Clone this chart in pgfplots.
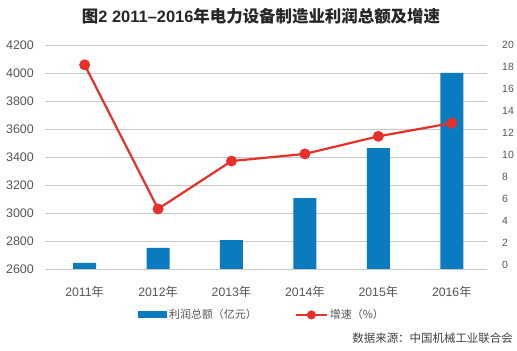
\documentclass[border=0pt]{standalone}
\usepackage{fontspec}
\setmainfont{Liberation Sans}
\newfontfamily\cjk{Noto Sans CJK SC}
\usepackage{pgfplots}
\pgfplotsset{compat=1.18}
\definecolor{barblue}{HTML}{0A7BBF}
\definecolor{linered}{HTML}{E8302A}
\definecolor{gridgray}{HTML}{C8C8C8}
\definecolor{textgray}{HTML}{555555}
\begin{document}
\begin{tikzpicture}
\begin{axis}[at={(0bp,0bp)}, anchor=south west, scale only axis,
  width=442bp, height=224bp,
  xmin=-0.54, xmax=5.48, ymin=2600, ymax=4200,
  ytick={2600,2800,...,4200},
  xtick={0,...,5},
  xticklabels={2011{\cjk 年},2012{\cjk 年},2013{\cjk 年},2014{\cjk 年},2015{\cjk 年},2016{\cjk 年}},
  ymajorgrids, grid style={gridgray, line width=0.8pt},
  axis line style={draw=none}, major tick length=0,
  /pgf/number format/assume math mode=true,
  /pgf/number format/1000 sep={},
  yticklabel style={font=\fontsize{12.5}{14}\selectfont, text=textgray, inner sep=0, xshift=-11bp},
  xticklabel style={font=\fontsize{12.3}{14}\selectfont, text=textgray, inner sep=0, yshift=-17bp},
  legend columns=2,
  legend style={draw=none, fill=none, at={(0.491,-0.205)}, anchor=center,
    font=\fontsize{11}{13}\selectfont\cjk, text=textgray,
    /tikz/every even column/.append style={column sep=36bp}},
]
\addplot[ybar, bar width=23bp, fill=barblue, draw=none,
  legend image code/.code={\fill[barblue] (0bp,-3.5bp) rectangle (29bp,3.5bp);}]
  coordinates {(0,2643) (1,2750) (2,2807) (3,3107) (4,3464) (5,4000)};
\addlegendentry{利润总额（亿元）}
\addlegendimage{legend image code/.code={\draw[linered, line width=2.2bp] (0bp,0bp) -- (31bp,0bp); \fill[linered] (15.5bp,0bp) circle (4.3bp);}}
\addlegendentry{增速（\%）}
\end{axis}
\begin{axis}[at={(0bp,0bp)}, anchor=south west, scale only axis,
  width=442bp, height=224bp,
  xmin=-0.54, xmax=5.48, ymin=-0.36, ymax=20,
  axis x line=none, axis y line*=right,
  axis line style={draw=none}, major tick length=0,
  ytick={0,2,...,20},
  /pgf/number format/assume math mode=true,
  yticklabel style={font=\fontsize{10.5}{12}\selectfont, text=textgray, inner sep=0, xshift=15bp},
  clip=false,
]
\addplot[linered, line width=2.2bp, mark=*, mark size=4.3bp, mark options={fill=linered, draw=linered}]
  coordinates {(0,18.2) (1,5.1) (2,9.45) (3,10.1) (4,11.7) (5,12.9)};
\end{axis}
\node[font=\fontsize{16.5}{18}\selectfont\bfseries, text=black!85] at (216bp,253bp) {{\cjk\bfseries 图}2 2011–2016{\cjk\bfseries 年电力设备制造业利润总额及增速}};
\node[anchor=east, font=\fontsize{11.5}{13}\selectfont\cjk, text=black!75, inner sep=0] at (468bp,-69bp) {数据来源：中国机械工业联合会};
\path[use as bounding box] (-45bp,-82bp) rectangle (472bp,269bp);
\end{tikzpicture}
\end{document}
